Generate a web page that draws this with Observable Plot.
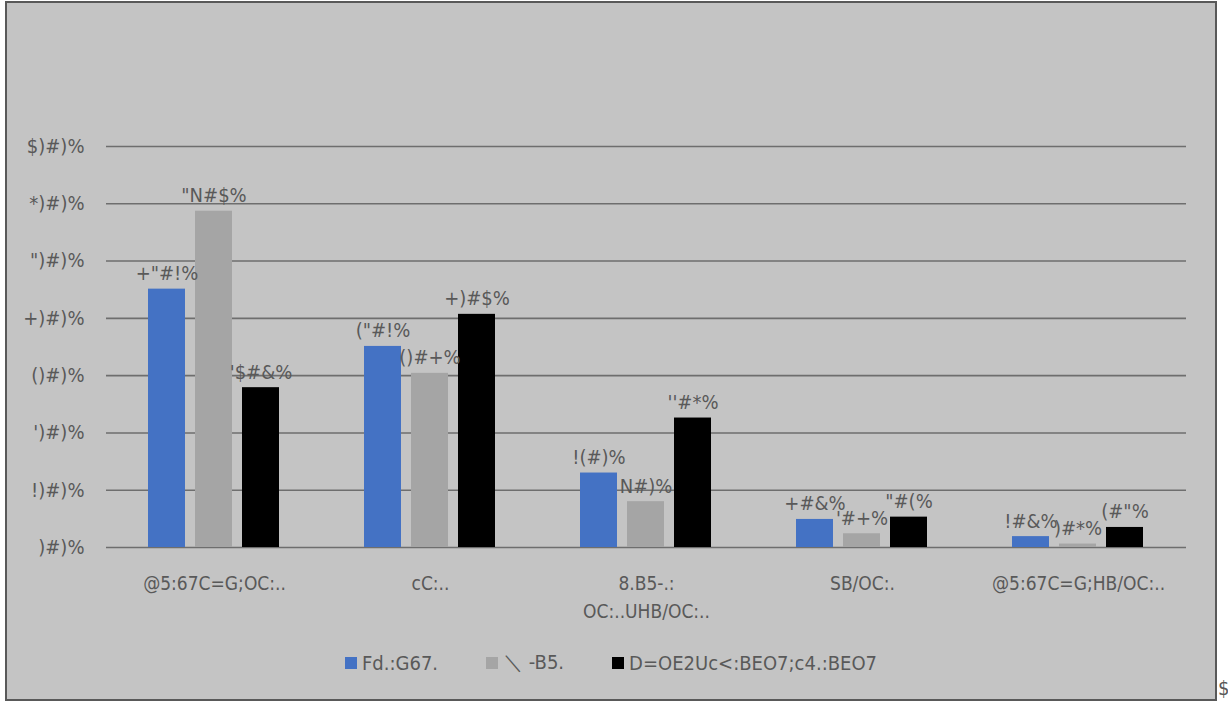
<!DOCTYPE html>
<html>
<head>
<meta charset="utf-8">
<script src="https://cdn.jsdelivr.net/npm/d3@7"></script>
<script src="https://cdn.jsdelivr.net/npm/@observablehq/plot@0.6"></script>
<style>
  html, body { margin: 0; padding: 0; background: #ffffff; }
  body { width: 1228px; height: 701px; position: relative; overflow: hidden;
         font-family: "Liberation Sans Narrow", "DejaVu Sans Condensed", "Roboto", sans-serif; }
  #frame { position: absolute; left: 5px; top: 1px; width: 1208px; height: 696px;
           border: 2px solid #595959; background: #c4c4c4; }
  #chart { position: absolute; left: 0; top: 0; }
  #legend { position: absolute; left: 0; top: 646px; width: 1208px; display: flex;
            justify-content: center; gap: 48px; color: #595959; font-size: 20px; }
  #legend .item { display: flex; align-items: center; gap: 5px; }
  #legend .sw { width: 12px; height: 12px; display: inline-block; }
  #stray { position: absolute; left: 1218px; top: 676px; color: #595959; font-size: 20px; }
</style>
</head>
<body>
<div id="frame">
  <div id="chart"></div>
  <div id="legend"></div>
</div>
<div id="stray">$</div>
<script>
// ---- data ----
const categories = ["@5:67C=G;OC:..", "cC:..", "8.B5-.:\nOC:..UHB/OC:..", "SB/OC:.", "@5:67C=G;HB/OC:.."];
const seriesNames = ["Fd.:G67.", "＼ -B5.", "D=OE2Uc<:BEO7;c4.:BEO7"];
const seriesColors = ["#4472c4", "#a5a5a5", "#000000"];
const blueValues = [45.1, 35.1, 13.0, 4.9, 1.9];
const grayValues = [58.7, 30.4, 8.0, 2.4, 0.6];
const blackValues = [27.9, 40.7, 22.6, 5.3, 3.5];
const yTicks = [0, 10, 20, 30, 40, 50, 60, 70];
// glyph substitution seen in the reference text
const glyphs = {"0": ")", "1": "!", "2": "'", "3": "(", "4": "+", "5": "\"", "6": "*", "7": "$", "8": "N", "9": "&", ".": "#", "%": "%"};
const enc = (v) => (v.toFixed(1) + "%").split("").map(c => glyphs[c] ?? c).join("");

const seriesValues = [blueValues, grayValues, blackValues];
const data = [];
categories.forEach((c, i) => {
  seriesNames.forEach((s, j) => data.push({cat: c, series: s, value: seriesValues[j][i]}));
});

const W = 1208, H = 630;
const chart = Plot.plot({
  width: W,
  height: H,
  marginLeft: 98,
  marginRight: 28,
  marginTop: 143,
  marginBottom: 86,
  style: {background: "transparent", color: "#595959", fontSize: "20px",
          fontFamily: "'Liberation Sans Narrow', 'DejaVu Sans Condensed', Roboto, sans-serif"},
  fx: {domain: categories, paddingInner: 0, paddingOuter: 0, label: null},
  x: {domain: seriesNames, paddingInner: 0.2083, paddingOuter: 0.858, axis: null},
  y: {domain: [0, 70], label: null},
  color: {domain: seriesNames, range: seriesColors},
  marks: [
    Plot.ruleY(yTicks, {stroke: "#6e6e6e", strokeWidth: 1.6}),
    Plot.axisY(yTicks, {tickSize: 0, tickPadding: 22, tickFormat: enc, label: null, fontSize: 20, fill: "#595959"}),
    Plot.axisFx({anchor: "bottom", tickSize: 0, tickPadding: 23, label: null, fontSize: 19, lineHeight: 1.45, fill: "#595959"}),
    Plot.barY(data, {fx: "cat", x: "series", y: "value", fill: "series"}),
    Plot.text(data, {fx: "cat", x: "series", y: "value", text: d => enc(d.value), dy: -9,
                     lineAnchor: "bottom", fill: "#595959", fontSize: 20})
  ]
});
document.getElementById("chart").appendChild(chart);

const legend = document.getElementById("legend");
seriesNames.forEach((s, j) => {
  const item = document.createElement("span");
  item.className = "item";
  const sw = document.createElement("span");
  sw.className = "sw";
  sw.style.background = seriesColors[j];
  const t = document.createElement("span");
  t.textContent = s;
  item.appendChild(sw);
  item.appendChild(t);
  legend.appendChild(item);
});
</script>
</body>
</html>
